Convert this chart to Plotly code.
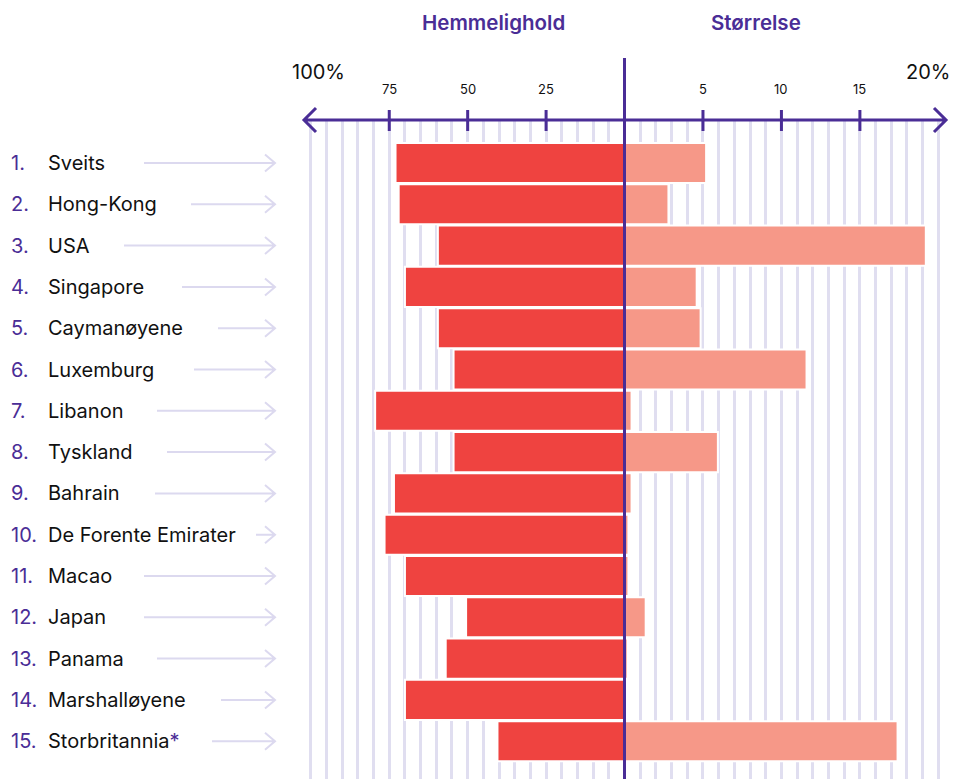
import plotly.graph_objects as go

# ---------------- data ----------------
countries = ["Sveits", "Hong-Kong", "USA", "Singapore", "Caymanøyene", "Luxemburg",
             "Libanon", "Tyskland", "Bahrain", "De Forente Emirater", "Macao",
             "Japan", "Panama", "Marshalløyene", "Storbritannia*"]
secrecy = [73, 72, 59.5, 70, 59.5, 54.5, 79.5, 54.5, 73.5, 76.5, 70, 50.5, 57, 70, 40.5]
size = [5.2, 2.8, 19.2, 4.6, 4.85, 11.6, 0.45, 5.95, 0.45, 0.25, 0.25, 1.35, 0.2, 0.03, 17.4]
left_ticks = [75, 50, 25]
right_ticks = [5, 10, 15]

# ---------------- style / layout constants ----------------
W, H = 955, 779
PURPLE = "#4a2d96"
RED = "#ef4340"
SALMON = "#f69888"
GRID = "#e0def0"
ARROW_C = "#dcd9ef"
FONT = "Inter"
arrow_starts = [144, 191, 124, 182, 218, 194, 157, 167, 155, 256, 144, 144, 157, 221, 212]
CENTER = 624.5

rows = list(range(len(countries)))

def px(x):
    return x / W

def py(y):
    return 1 - y / H

fig = go.Figure()
fig.add_trace(go.Bar(y=rows, x=secrecy, orientation="h", xaxis="x", yaxis="y",
                     width=0.97, marker=dict(color=RED, line=dict(color="white", width=2)),
                     hoverinfo="skip"))
fig.add_trace(go.Bar(y=rows, x=size, orientation="h", xaxis="x2", yaxis="y",
                     width=0.97, marker=dict(color=SALMON, line=dict(color="white", width=2)),
                     hoverinfo="skip"))

shapes = []
annotations = []

# header texts
annotations.append(dict(text="Hemmelighold", x=px(494), y=py(22), xref="paper", yref="paper",
                        showarrow=False, xanchor="center", yanchor="middle",
                        font=dict(family=FONT, size=20.5, color=PURPLE, weight=600)))
annotations.append(dict(text="Størrelse", x=px(756), y=py(22), xref="paper", yref="paper",
                        showarrow=False, xanchor="center", yanchor="middle",
                        font=dict(family=FONT, size=20.5, color=PURPLE, weight=600)))
annotations.append(dict(text="100%", x=px(318), y=py(72), xref="paper", yref="paper",
                        showarrow=False, xanchor="center", yanchor="middle",
                        font=dict(family=FONT, size=20, color="#111111")))
annotations.append(dict(text="20%", x=px(928), y=py(72), xref="paper", yref="paper",
                        showarrow=False, xanchor="center", yanchor="middle",
                        font=dict(family=FONT, size=20, color="#111111")))
for v in left_ticks:
    annotations.append(dict(text=str(v), x=v, y=py(89), xref="x", yref="paper",
                            showarrow=False, xanchor="center", yanchor="middle",
                            font=dict(family=FONT, size=13, color="#111111")))
    shapes.append(dict(type="line", xref="x", yref="paper", x0=v, x1=v,
                       y0=py(110), y1=py(131), line=dict(color=PURPLE, width=3)))
for v in right_ticks:
    annotations.append(dict(text=str(v), x=v, y=py(89), xref="x2", yref="paper",
                            showarrow=False, xanchor="center", yanchor="middle",
                            font=dict(family=FONT, size=13, color="#111111")))
    shapes.append(dict(type="line", xref="x2", yref="paper", x0=v, x1=v,
                       y0=py(110), y1=py(131), line=dict(color=PURPLE, width=3)))

# main double arrow axis
ay = py(120)
hy = 12 / H
shapes.append(dict(type="path", xref="paper", yref="paper",
                   path=(f"M {px(304)},{ay} L {px(946)},{ay} "
                         f"M {px(316)},{ay + hy} L {px(304)},{ay} L {px(316)},{ay - hy} "
                         f"M {px(934)},{ay + hy} L {px(946)},{ay} L {px(934)},{ay - hy}"),
                   line=dict(color=PURPLE, width=3)))

# centre line (paper ref so it is not clipped by the subplot edge)
shapes.append(dict(type="line", xref="paper", yref="paper", x0=px(CENTER), x1=px(CENTER),
                   y0=py(58), y1=0, line=dict(color=PURPLE, width=3)))

# row labels and arrows
row_px = 41.3
hh = 8.5 / row_px
for i, name in enumerate(countries):
    annotations.append(dict(text=f"{i + 1}.", x=px(9), y=i, xref="paper", yref="y",
                            showarrow=False, xanchor="left", yanchor="middle",
                            font=dict(family=FONT, size=20, color=PURPLE)))
    label = name
    if name.endswith("*"):
        label = name[:-1] + f"<span style='color:{PURPLE}'>*</span>"
    annotations.append(dict(text=label, x=px(46), y=i, xref="paper", yref="y",
                            showarrow=False, xanchor="left", yanchor="middle",
                            font=dict(family=FONT, size=20, color="#111111")))
    xs = px(arrow_starts[i])
    xe = px(275)
    xa = px(265)
    shapes.append(dict(type="path", xref="paper", yref="y",
                       path=(f"M {xs},{i} L {xe},{i} "
                             f"M {xa},{i - hh} L {xe},{i} L {xa},{i + hh}"),
                       line=dict(color=ARROW_C, width=2)))

top_v = -43 / row_px
bot_v = top_v + (H - 120) / row_px

fig.update_layout(
    width=W, height=H,
    margin=dict(l=0, r=0, t=0, b=0),
    paper_bgcolor="white", plot_bgcolor="white",
    showlegend=False, hovermode=False,
    xaxis=dict(domain=[303 / W, CENTER / W], range=[102.5, 0], showgrid=True,
               gridcolor=GRID, gridwidth=2.5, dtick=5, tick0=0, showticklabels=False,
               zeroline=False, showline=False, ticks="", anchor="y", fixedrange=True),
    xaxis2=dict(domain=[CENTER / W, 947 / W], range=[0, 20.55], showgrid=True,
                gridcolor=GRID, gridwidth=2.5, dtick=1, tick0=0, showticklabels=False,
                zeroline=False, showline=False, ticks="", anchor="y", fixedrange=True),
    yaxis=dict(domain=[0, 1 - 120 / H], range=[bot_v, top_v], showgrid=False,
               showticklabels=False, zeroline=False, showline=False, ticks="",
               fixedrange=True),
    shapes=shapes,
    annotations=annotations,
)

fig.write_html("out.html")
